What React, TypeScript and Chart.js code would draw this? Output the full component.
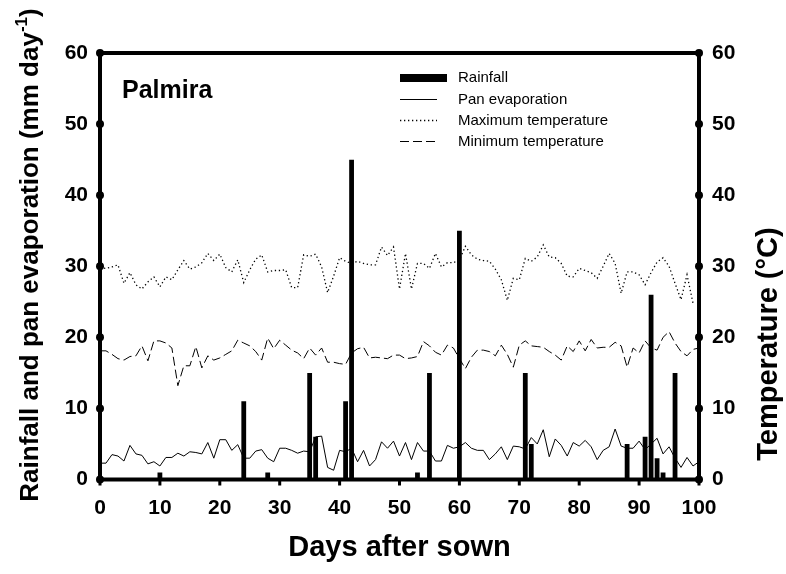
import React, { useEffect, useRef } from "react";
import { Chart, registerables } from "chart.js";

Chart.register(...registerables);

const FONT = '"Liberation Sans", Arial, Helvetica, sans-serif';

// ---- data ----
const rainDays = [10, 24, 28, 35, 36, 41, 42, 53, 55, 60, 71, 72, 88, 91, 92, 93, 94, 96];
const rainfall = [1, 11, 1, 15, 6, 11, 45, 1, 15, 35, 15, 5, 5, 6, 26, 3, 1, 15];

const panEvap = [
  2.3, 2.3, 3.5, 3.3, 2.6, 4.8, 3.6, 3.4, 2.2, 2.5,
  1.9, 3.1, 3.1, 3.7, 3.3, 3.9, 3.8, 3.6, 5.2, 3.0,
  5.6, 5.6, 4.1, 4.9, 3.0, 3.0, 4.0, 4.2, 3.0, 2.5,
  4.4, 4.4, 4.1, 3.7, 4.0, 3.9, 6.0, 6.1, 1.7, 1.3,
  4.1, 3.9, 4.4, 2.5, 4.1, 1.9, 2.8, 5.3, 4.4, 5.4,
  3.3, 5.2, 2.8, 5.2, 4.0, 4.0, 2.6, 2.6, 4.8, 4.4,
  4.6, 5.2, 4.4, 4.1, 4.1, 2.8, 3.6, 4.6, 2.8, 4.7,
  4.6, 4.3, 5.9, 5.0, 7.0, 3.2, 5.7, 4.8, 3.3, 5.2,
  4.7, 5.5, 4.6, 2.8, 4.1, 4.6, 7.1, 4.7, 4.4, 4.4,
  5.4, 4.2, 5.0, 5.8, 3.6, 4.6, 3.0, 1.7, 3.1, 1.9,
  2.5,
];

const maxTemp = [
  29.8, 29.7, 29.9, 30.2, 27.6, 29.1, 27.4, 26.8, 27.8, 28.5,
  27.1, 28.5, 28.1, 29.5, 30.8, 29.6, 29.9, 30.5, 31.8, 30.8,
  31.7, 29.8, 29.2, 30.9, 27.7, 29.5, 31.0, 31.6, 29.2, 29.4,
  29.4, 29.5, 27.0, 27.0, 31.6, 31.4, 31.7, 29.9, 26.3, 28.6,
  31.2, 30.7, 30.4, 30.7, 30.4, 30.2, 30.2, 32.7, 31.5, 32.7,
  26.8, 31.8, 26.8, 30.4, 30.4, 29.7, 31.8, 29.9, 30.5, 30.5,
  30.9, 32.8, 31.6, 31.0, 30.8, 30.7, 29.6, 28.1, 25.2, 28.3,
  28.1, 31.1, 30.7, 31.3, 33.0, 31.3, 31.2, 30.4, 28.6, 28.5,
  29.7, 29.4, 29.1, 28.3, 30.0, 31.8, 30.4, 26.2, 29.2, 29.2,
  28.8, 27.4, 29.1, 30.6, 31.2, 30.0, 27.6, 25.3, 28.8, 24.8,
];

const minTemp = [
  18.1, 18.1, 17.6, 17.0, 16.8, 17.3, 17.4, 18.8, 16.7, 19.5,
  19.5, 19.2, 18.5, 13.2, 16.0, 16.0, 18.7, 15.7, 17.4, 16.8,
  17.1, 17.6, 18.1, 19.6, 19.2, 18.8, 18.0, 16.8, 19.9, 18.4,
  19.6, 18.9, 18.2, 17.8, 17.0, 18.5, 17.5, 18.5, 16.5, 16.5,
  16.3, 16.2, 17.8, 18.4, 18.6, 17.1, 17.2, 17.1, 17.0, 17.5,
  17.5, 17.0, 17.1, 17.3, 19.4, 18.8, 17.9, 17.5, 18.9, 18.5,
  17.0, 15.6, 17.2, 18.2, 18.2, 18.0, 17.4, 18.9, 17.6, 15.8,
  18.9, 19.5, 18.8, 18.7, 18.6, 18.0, 17.5, 16.8, 18.8, 18.0,
  19.5, 18.1, 19.7, 18.5, 18.6, 18.6, 19.3, 18.8, 15.8, 18.5,
  17.8, 19.5, 18.5, 18.2, 20.0, 20.8, 19.2, 18.0, 17.4, 18.3,
  18.5,
];

const xTitle = "Days after sown";
const yTitleMain = "Rainfall and pan evaporation (mm day";
const yTitleSup = "-1";
const yTitleEnd = ")";
const y2Title = "Temperature (°C)";
const siteLabel = "Palmira";
const seriesLabels = ["Rainfall", "Pan evaporation", "Maximum temperature", "Minimum temperature"];

const decorPlugin = {
  id: "decor",
  afterDraw(chart: any) {
    const ctx: CanvasRenderingContext2D = chart.ctx;
    const { left, right, top, bottom } = chart.chartArea;
    const ys = chart.scales.y;
    const xs = chart.scales.x;
    ctx.save();
    ctx.fillStyle = "#000";
    ctx.strokeStyle = "#000";

    // frame
    ctx.lineWidth = 4;
    ctx.strokeRect(left, top, right - left, bottom - top);

    // tick dots on y axes
    ys.ticks.forEach((t: any) => {
      const py = ys.getPixelForValue(t.value);
      [left, right].forEach((px) => {
        ctx.beginPath();
        ctx.arc(px, py, 4, 0, Math.PI * 2);
        ctx.fill();
      });
    });
    // tick marks on x axis
    xs.ticks.forEach((t: any) => {
      const px = xs.getPixelForValue(t.value);
      ctx.fillRect(px - 1.5, bottom, 3, 6);
    });

    // site label
    ctx.font = `bold 25px ${FONT}`;
    ctx.textBaseline = "alphabetic";
    ctx.textAlign = "left";
    ctx.fillText(siteLabel, 122, 98);

    // x title
    ctx.font = `bold 29px ${FONT}`;
    ctx.textAlign = "center";
    ctx.fillText(xTitle, (left + right) / 2, 556);

    // left y title with superscript
    ctx.save();
    ctx.translate(38, 255);
    ctx.rotate(-Math.PI / 2);
    ctx.textAlign = "left";
    const mainF = `bold 26px ${FONT}`;
    const supF = `bold 17px ${FONT}`;
    ctx.font = mainF;
    const w1 = ctx.measureText(yTitleMain).width;
    const w3 = ctx.measureText(yTitleEnd).width;
    ctx.font = supF;
    const w2 = ctx.measureText(yTitleSup).width;
    const total = w1 + w2 + w3;
    let sx = -total / 2;
    ctx.font = mainF;
    ctx.fillText(yTitleMain, sx, 0);
    sx += w1;
    ctx.font = supF;
    ctx.fillText(yTitleSup, sx, -11);
    sx += w2;
    ctx.font = mainF;
    ctx.fillText(yTitleEnd, sx, 0);
    ctx.restore();

    // right y title
    ctx.save();
    ctx.translate(777, 344);
    ctx.rotate(-Math.PI / 2);
    ctx.font = `bold 29px ${FONT}`;
    ctx.textAlign = "center";
    ctx.fillText(y2Title, 0, 0);
    ctx.restore();

    // legend
    const lx0 = 400;
    const lx1 = 437;
    const tx = 458;
    const rows = [78, 99.5, 120.5, 141.5];
    ctx.font = `15px ${FONT}`;
    ctx.textAlign = "left";
    ctx.textBaseline = "middle";
    chart.data.datasets.forEach((ds: any, i: number) => {
      const yy = rows[i];
      if (i === 0) {
        ctx.fillRect(lx0, yy - 4, 47, 8);
      } else {
        ctx.save();
        ctx.lineWidth = ds.borderWidth;
        ctx.setLineDash(ds.borderDash || []);
        ctx.beginPath();
        ctx.moveTo(lx0, yy);
        ctx.lineTo(lx1, yy);
        ctx.stroke();
        ctx.restore();
      }
      ctx.fillText(ds.label, tx, yy);
    });

    ctx.restore();
  },
};

export default function App() {
  const ref = useRef<HTMLCanvasElement | null>(null);

  useEffect(() => {
    if (!ref.current) return;
    const chart = new Chart(ref.current, {
      type: "bar",
      data: {
        datasets: [
          {
            type: "bar",
            label: seriesLabels[0],
            data: rainDays.map((d, i) => ({ x: d, y: rainfall[i] })),
            backgroundColor: "#000",
            borderWidth: 0,
            barPercentage: 0.8,
            categoryPercentage: 1,
            yAxisID: "y",
            order: 4,
          },
          {
            type: "line",
            label: seriesLabels[1],
            data: panEvap.map((v, i) => ({ x: i, y: v })),
            borderColor: "#000",
            borderWidth: 1,
            pointRadius: 0,
            tension: 0,
            yAxisID: "y",
            order: 3,
          },
          {
            type: "line",
            label: seriesLabels[2],
            data: maxTemp.map((v, i) => ({ x: i, y: v })),
            borderColor: "#000",
            borderWidth: 1.3,
            borderDash: [1.3, 2.7],
            pointRadius: 0,
            tension: 0,
            yAxisID: "y2",
            order: 2,
          },
          {
            type: "line",
            label: seriesLabels[3],
            data: minTemp.map((v, i) => ({ x: i, y: v })),
            borderColor: "#000",
            borderWidth: 1,
            borderDash: [9, 4],
            pointRadius: 0,
            tension: 0,
            yAxisID: "y2",
            order: 1,
          },
        ],
      } as any,
      options: {
        animation: false,
        responsive: false,
        maintainAspectRatio: false,
        layout: { padding: { top: 53, left: 0, right: 0, bottom: 0 } },
        plugins: {
          legend: { display: false },
          tooltip: { enabled: false },
          title: { display: false },
        },
        scales: {
          x: {
            type: "linear",
            min: 0,
            max: 100,
            offset: false,
            grid: { display: false, drawTicks: false, offset: false },
            border: { display: false },
            ticks: {
              stepSize: 10,
              color: "#000",
              font: { family: FONT, size: 21, weight: "bold" },
              padding: 16,
              maxRotation: 0,
            },
            afterFit: (s: any) => {
              s.height = 94.5;
            },
          },
          y: {
            type: "linear",
            position: "left",
            min: 0,
            max: 60,
            grid: { display: false, drawTicks: false },
            border: { display: false },
            ticks: {
              stepSize: 10,
              color: "#000",
              font: { family: FONT, size: 21, weight: "bold" },
              padding: 12,
            },
            afterFit: (s: any) => {
              s.width = 100;
            },
          },
          y2: {
            type: "linear",
            position: "right",
            min: 0,
            max: 60,
            grid: { display: false, drawTicks: false },
            border: { display: false },
            ticks: {
              stepSize: 10,
              color: "#000",
              font: { family: FONT, size: 21, weight: "bold" },
              padding: 13,
            },
            afterFit: (s: any) => {
              s.width = 87;
            },
          },
        },
      } as any,
      plugins: [decorPlugin],
    });
    return () => chart.destroy();
  }, []);

  return (
    <div style={{ position: "absolute", left: 0, top: 0, width: 786, height: 574, background: "#fff" }}>
      <canvas ref={ref} width={786} height={574} style={{ display: "block", width: 786, height: 574 }} />
    </div>
  );
}
